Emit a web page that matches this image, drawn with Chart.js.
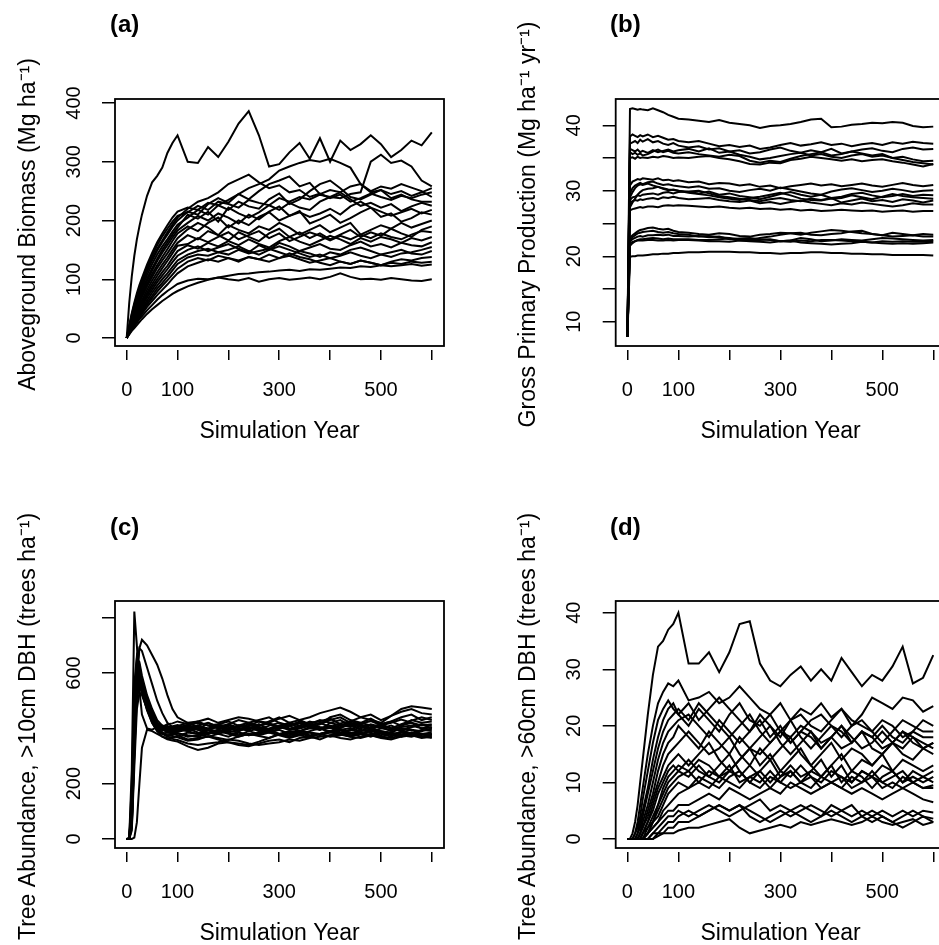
<!DOCTYPE html>
<html>
<head>
<meta charset="utf-8">
<script src="https://cdn.jsdelivr.net/npm/chart.js@4.4.1/dist/chart.umd.min.js"></script>
<style>
  html, body { margin: 0; padding: 0; background: #fff; }
  body { position: relative; width: 939px; height: 945px; overflow: hidden; font-family: "Liberation Sans", Arial, sans-serif; }
  canvas { position: absolute; }
  .tag { position: absolute; font-size: 24px; line-height: 24px; font-weight: bold; color: #000; }
</style>
</head>
<body>
<canvas id="chartA" width="470" height="470" style="left:0;top:0"></canvas>
<canvas id="chartB" width="500" height="470" style="left:470px;top:0"></canvas>
<canvas id="chartC" width="470" height="480" style="left:0;top:470px"></canvas>
<canvas id="chartD" width="500" height="480" style="left:470px;top:470px"></canvas>
<div class="tag" style="left:110px;top:12px">(a)</div>
<div class="tag" style="left:610px;top:12px">(b)</div>
<div class="tag" style="left:110px;top:515px">(c)</div>
<div class="tag" style="left:610px;top:515px">(d)</div>
<script>
// simulation years sampled for every series
const years = [0,5,10,15,20,25,30,40,50,60,70,80,90,100,120,140,160,180,200,220,240,260,280,300,320,340,360,380,400,420,440,460,480,500,520,540,560,580,600];
const xTicks = [0,100,200,300,400,500,600];
const xTickLabels = ['0','100','','300','','500',''];

// (a) aboveground biomass, Mg/ha
const biomassTicks = [0,100,200,300,400];
const biomassTickLabels = ['0','100','200','300','400'];
const biomass = [
  [0,60,105,140,168,190,210,242,265,276,290,315,332,345,300,298,325,308,334,365,386,345,292,296,316,332,305,340,300,336,320,330,345,330,308,320,336,328,350],
  [0,22,42,60,76,90,102,125,145,163,178,192,205,215,222,218,230,226,235,245,255,262,270,285,292,298,303,300,305,298,290,262,248,252,245,250,242,248,255],
  [0,20,40,57,72,86,98,120,140,158,173,186,198,208,214,225,218,232,228,222,235,230,226,238,232,240,236,244,240,238,245,248,300,312,298,302,292,268,258],
  [0,19,37,53,68,82,94,116,135,152,166,180,193,205,220,232,238,248,262,270,278,265,255,260,248,252,240,246,238,244,232,238,246,240,235,242,238,244,248],
  [0,18,35,51,66,79,91,113,132,149,163,176,189,200,215,210,228,238,230,245,236,250,262,268,275,258,264,245,252,248,258,262,250,258,254,262,256,250,240],
  [0,17,33,48,62,75,86,107,126,142,156,168,181,193,205,218,210,226,218,232,224,220,236,246,228,236,250,262,268,255,240,236,244,252,238,244,236,232,232],
  [0,16,31,45,58,70,81,101,119,135,150,163,176,188,210,203,215,198,222,212,205,214,226,218,230,222,218,232,240,248,236,225,230,222,228,216,224,230,225],
  [0,15,29,42,55,66,77,97,115,131,145,158,171,183,196,208,200,212,205,195,210,202,215,224,208,214,206,212,220,210,224,232,222,215,208,214,220,212,218],
  [0,14,27,40,52,63,73,92,109,124,138,151,165,178,190,182,196,205,188,200,192,206,214,200,208,216,195,202,210,196,204,214,222,206,212,198,204,214,210],
  [0,13,26,38,50,60,70,88,104,119,132,144,157,170,185,196,188,175,192,184,178,190,184,196,188,176,184,192,180,188,196,176,184,192,186,196,188,194,200],
  [0,12,24,35,46,56,65,82,98,112,125,137,150,162,175,168,182,175,166,180,172,165,178,186,172,180,170,178,168,176,184,172,180,174,186,178,172,184,190],
  [0,11,22,33,43,52,61,77,92,106,119,131,144,157,160,170,163,172,180,168,175,182,170,178,165,172,180,174,166,174,168,176,170,178,172,168,176,182,180],
  [0,10,21,31,40,49,57,73,87,100,112,123,136,148,158,152,162,156,165,158,168,160,154,165,172,164,158,166,174,168,160,170,164,172,168,162,170,166,172],
  [0,10,20,29,38,46,54,69,82,95,106,117,129,140,150,156,148,154,160,152,146,158,150,162,156,148,154,160,152,150,158,164,156,160,154,162,158,156,163],
  [0,9,18,27,35,43,50,64,77,89,100,110,121,132,142,148,152,146,150,156,148,142,150,156,150,144,138,142,136,140,146,140,136,142,138,144,146,150,155],
  [0,9,17,25,33,40,47,60,72,84,94,104,115,126,137,142,140,146,142,150,144,148,152,146,140,148,144,138,146,142,150,154,148,142,146,150,144,142,148],
  [0,8,16,24,31,38,44,57,68,79,89,98,108,118,130,136,132,140,136,130,138,134,142,136,144,138,134,128,124,130,126,132,128,124,130,134,132,136,138],
  [0,8,15,22,29,35,41,53,63,73,82,91,101,110,122,128,134,130,136,132,138,134,130,136,140,134,128,132,136,130,126,132,128,124,128,126,130,128,130],
  [0,6,12,17,22,27,32,41,49,56,63,69,75,80,88,94,99,103,106,109,110,112,113,115,116,114,117,116,118,120,119,122,121,124,122,124,126,123,125],
  [0,7,14,20,26,32,37,47,56,65,73,80,86,92,98,101,100,103,100,98,102,96,100,102,99,101,103,100,104,110,104,100,101,99,102,100,98,97,100]
];

// (b) gross primary production, Mg/ha/yr
const gppTicks = [10,15,20,25,30,35,40];
const gppTickLabels = ['10','','20','','30','','40'];
const gpp = [
  [7.7,42.5,42.6,42.5,42.4,42.5,42.4,42.3,42.6,42.3,42.0,41.6,41.3,41.0,40.9,40.7,40.5,40.8,40.4,40.2,40.0,39.6,39.9,40.0,40.2,40.5,40.9,41.0,39.7,39.8,40.1,40.2,40.4,40.3,40.5,40.4,39.9,39.7,39.8],
  [7.7,38.3,38.6,38.4,38.2,38.5,38.3,38.6,38.2,38.4,38.1,37.8,37.9,37.6,37.4,37.6,37.2,36.8,37.0,36.7,36.9,36.4,36.6,37.0,37.3,36.9,37.1,37.4,37.0,37.2,36.8,37.1,37.3,37.0,37.4,37.2,37.5,37.3,37.2],
  [7.7,37.2,37.4,37.6,37.3,37.8,37.5,37.9,37.4,37.6,37.2,37.0,37.3,36.9,36.6,36.8,36.3,36.5,36.0,36.2,35.7,35.9,36.3,36.6,36.1,35.8,36.2,35.9,36.4,35.7,36.0,36.3,36.5,36.1,35.9,36.4,36.6,36.3,36.4],
  [7.7,36.4,36.2,36.0,36.3,35.9,36.1,35.8,36.2,35.9,36.1,36.3,36.0,36.2,36.4,36.0,36.5,35.8,36.0,35.5,35.2,34.8,35.0,35.3,35.6,35.8,35.4,35.6,35.2,35.0,35.4,35.6,35.2,35.4,35.0,35.2,34.8,34.5,34.6],
  [7.7,35.9,35.6,35.8,35.5,35.7,35.4,35.6,36.0,36.3,35.9,36.1,35.8,35.7,35.9,35.6,35.4,35.2,35.5,35.3,34.6,34.3,34.6,34.4,34.9,35.3,35.6,35.9,35.4,35.6,36.0,35.7,35.4,35.6,35.0,34.7,34.4,34.2,34.0],
  [7.7,35.0,35.1,34.9,35.2,35.0,35.1,35.0,35.2,35.1,35.3,35.2,35.0,35.1,35.0,35.2,35.3,35.0,34.8,34.5,34.1,34.0,34.3,34.2,34.7,34.9,35.2,35.0,34.8,34.6,34.8,34.5,34.7,34.8,34.5,34.3,34.0,33.7,34.1],
  [7.7,30.8,31.4,31.6,31.8,31.7,31.9,31.8,31.7,31.9,31.6,31.7,31.5,31.6,31.3,31.4,31.0,31.2,31.1,30.8,31.0,30.6,30.8,30.4,30.7,30.9,31.1,30.8,31.0,30.7,30.9,31.1,30.8,30.6,30.9,31.2,30.9,30.7,30.9],
  [7.7,29.6,30.4,30.8,31.0,31.2,31.0,31.3,31.4,31.1,30.9,31.0,30.8,30.7,30.5,30.7,30.3,30.4,30.0,29.8,30.1,30.3,30.0,30.5,30.2,29.9,29.6,29.4,29.9,30.2,30.4,30.1,29.8,30.0,30.3,30.1,29.8,30.0,30.1],
  [7.7,27.5,28.2,28.8,29.4,29.8,30.1,30.3,30.4,30.6,30.3,30.1,30.2,30.0,29.8,29.6,29.9,29.4,29.6,29.2,29.0,28.7,29.1,29.5,29.8,29.4,29.1,29.4,28.9,29.1,29.5,29.7,29.3,29.0,29.2,29.5,29.2,29.4,29.3],
  [7.7,28.6,29.0,29.1,29.3,29.2,29.4,29.5,29.6,29.4,29.7,29.8,29.6,29.8,29.9,30.0,29.6,29.2,29.0,28.8,28.6,28.4,28.7,28.9,28.6,28.4,28.8,28.6,28.9,28.2,28.5,28.8,28.4,28.6,28.3,28.7,28.5,28.2,28.5],
  [7.7,28.2,28.4,28.6,28.5,28.7,28.6,28.8,28.9,28.7,29.0,28.9,29.1,28.9,28.7,28.8,28.9,28.6,28.4,28.3,28.5,28.1,28.3,28.0,28.3,28.5,28.2,28.0,27.8,28.1,27.9,28.2,28.0,27.8,27.6,27.8,28.1,27.9,27.9],
  [7.7,27.0,27.2,27.3,27.4,27.5,27.4,27.6,27.6,27.5,27.7,27.8,27.7,27.8,27.7,27.6,27.5,27.6,27.4,27.3,27.4,27.2,27.3,27.1,27.2,27.0,27.1,26.9,27.0,27.1,27.0,26.9,27.0,26.8,26.9,27.0,26.8,26.9,26.9],
  [7.7,29.0,29.8,30.4,30.8,31.0,30.9,31.1,30.8,30.6,30.4,30.2,30.1,30.0,29.7,29.5,29.3,29.0,28.8,28.6,28.9,29.1,29.4,29.7,29.3,28.8,28.6,28.5,28.8,28.9,29.3,29.0,28.7,29.1,29.5,29.2,29.0,28.9,28.8],
  [7.7,22.8,23.2,23.5,23.8,24.0,24.1,24.3,24.4,24.2,24.1,24.2,23.9,23.7,23.6,23.4,23.3,23.5,23.4,23.1,23.0,23.3,23.4,23.6,23.5,23.3,23.6,23.8,24.0,23.9,23.7,23.5,23.4,23.2,23.6,23.4,23.2,23.4,23.3],
  [7.7,22.4,22.9,23.2,23.5,23.6,23.7,23.8,23.9,23.7,23.6,23.7,23.5,23.4,23.3,23.0,23.1,22.9,22.8,22.6,22.5,22.8,23.0,23.3,23.5,23.6,23.3,23.2,23.4,23.5,23.8,23.9,23.4,23.2,23.0,23.1,23.2,23.0,23.0],
  [7.7,22.3,22.6,22.8,23.0,23.1,23.0,23.2,23.2,23.3,23.2,23.3,23.1,23.1,23.0,23.1,22.9,23.0,22.6,22.7,22.8,22.6,22.5,22.3,22.4,22.8,22.6,22.3,22.4,22.6,22.5,22.4,22.6,22.8,22.7,22.6,22.5,22.4,22.5],
  [7.7,21.6,22.0,22.3,22.5,22.6,22.6,22.7,22.8,22.7,22.6,22.7,22.6,22.6,22.6,22.5,22.5,22.6,22.7,22.4,22.3,22.2,22.1,22.3,22.4,22.1,22.0,21.9,21.8,21.9,22.0,22.2,22.1,22.0,21.9,22.0,21.9,22.0,22.1],
  [7.7,22.0,22.2,22.3,22.4,22.4,22.4,22.5,22.5,22.4,22.4,22.5,22.4,22.5,22.5,22.4,22.3,22.3,22.2,22.4,22.4,22.5,22.6,22.3,22.2,22.4,22.3,22.5,22.5,22.4,22.3,22.2,22.1,22.3,22.2,22.3,22.2,22.2,22.3],
  [7.7,19.9,20.0,20.0,20.1,20.1,20.1,20.2,20.3,20.3,20.4,20.4,20.5,20.5,20.6,20.6,20.7,20.7,20.7,20.6,20.6,20.5,20.5,20.4,20.5,20.5,20.6,20.6,20.5,20.5,20.4,20.4,20.3,20.3,20.2,20.2,20.2,20.2,20.1]
];

// (c) trees > 10 cm DBH per ha
const smallTreeTicks = [0,200,400,600,800];
const smallTreeTickLabels = ['0','200','','600',''];
const smallTrees = [
  [0,5,250,822,700,540,450,400,395,405,400,410,395,400,410,395,420,405,390,410,400,415,395,405,420,400,410,395,420,430,410,400,415,405,390,410,420,400,405],
  [0,0,60,320,560,690,720,700,665,630,580,520,470,440,420,405,395,410,400,390,405,395,410,420,400,390,405,395,410,400,420,405,395,410,400,390,405,415,400],
  [0,0,80,400,620,690,680,620,560,500,455,420,405,398,390,380,395,385,400,390,405,395,385,400,410,390,400,395,405,385,395,410,400,390,385,400,395,390,400],
  [0,2,150,520,650,640,590,520,470,430,410,400,392,388,395,410,400,415,405,395,410,425,415,400,410,420,405,415,430,440,420,410,400,415,425,410,430,420,425],
  [0,1,120,480,620,610,570,510,460,420,400,395,398,402,390,400,385,395,410,400,390,380,395,405,395,400,410,420,405,395,400,390,405,415,400,390,380,395,390],
  [0,0,100,450,600,590,555,490,440,410,395,390,386,382,370,375,385,380,370,385,375,380,390,380,375,385,370,380,390,385,375,380,370,385,380,375,385,380,380],
  [0,0,90,420,580,600,560,500,450,415,400,385,382,388,400,385,380,395,385,375,390,400,385,395,380,390,385,375,385,395,380,390,395,385,375,385,395,380,385],
  [0,0,70,380,560,580,545,480,430,400,385,375,378,382,375,370,380,390,380,370,380,375,385,375,365,375,385,380,370,375,385,370,380,375,385,375,370,380,375],
  [0,0,50,340,540,565,540,480,430,405,395,400,403,408,420,425,410,400,415,430,420,410,425,440,420,410,425,415,440,450,430,420,435,415,425,440,450,430,440],
  [0,0,40,300,510,550,530,470,425,395,380,370,366,372,385,380,370,380,390,385,375,385,395,380,370,380,390,400,385,380,395,385,375,390,380,370,385,380,375],
  [0,1,200,560,660,630,575,500,440,410,395,390,392,398,410,420,410,415,425,410,420,430,440,420,410,425,415,430,420,410,425,440,430,420,445,460,470,455,450],
  [0,0,0,5,60,200,330,395,390,380,370,365,362,358,345,340,345,350,360,355,345,340,345,350,360,355,365,370,375,365,360,370,375,365,360,370,375,365,370],
  [0,0,30,260,470,530,520,470,420,390,370,360,356,352,335,322,330,345,350,340,335,345,355,360,350,365,370,360,375,380,370,365,375,370,365,375,380,370,370],
  [0,0,60,360,550,570,530,465,420,390,380,385,382,375,360,365,370,360,350,345,340,352,365,380,390,385,375,380,390,395,385,380,390,380,370,385,375,370,380],
  [0,0,110,470,610,600,560,490,445,415,405,415,418,425,415,425,435,420,430,440,435,425,420,435,445,430,440,455,465,475,460,440,450,430,445,470,480,475,470],
  [0,0,130,500,640,620,570,500,450,420,410,405,408,412,400,410,420,405,395,410,400,405,395,410,420,430,415,405,400,410,415,420,410,400,395,405,410,400,395],
  [0,0,80,400,600,610,580,510,455,420,400,390,387,392,405,395,380,390,400,410,405,390,400,410,395,405,415,400,390,405,410,395,385,400,410,395,405,415,410],
  [0,0,45,320,520,560,545,490,440,405,385,375,372,368,355,360,372,365,358,370,380,372,365,378,385,375,368,380,388,378,370,382,375,368,380,386,378,372,365],
  [0,0,140,510,630,615,565,495,448,418,405,398,400,404,412,400,395,406,415,402,395,408,418,406,398,410,420,426,435,415,405,418,426,412,400,415,428,440,430],
  [0,0,100,440,590,590,555,492,446,414,398,392,390,393,402,410,398,388,396,406,414,402,394,404,412,420,408,396,404,418,426,414,402,410,420,432,420,410,415]
];

// (d) trees > 60 cm DBH per ha
const largeTreeTicks = [0,10,20,30,40];
const largeTreeTickLabels = ['0','10','20','30','40'];
const largeTrees = [
  [0,0,1,3,6,10,14,22,29,34,35,37,38,40,31,31,33,29.5,33,38,38.5,31,28,27,29,30.5,28,30,28,32,29.5,27,29,28,30.5,34,27.5,28.5,32.5],
  [0,0,0,1,3,6,9,15,20,24,26,27.5,27,28,24.5,25,26,24,25,27,25,23,22,24,21,23,22,24,21.5,23,20,22,25,24,23,25,24.5,22.5,23.5],
  [0,0,0,1,2,4,7,12,17,21,23,24.5,23,22,24,21,23,25,23,21,19,22,20,18,21,22,20,19,21,23,21,20,19,21,20,18,19,21,20],
  [0,0,0,0,1,3,5,9,14,18,21,23,24,22,20,23,21,19,22,24,21,20,22,19,17,19,21,22,20,18,20,21,19,17,19,21,20,19,19],
  [0,0,0,0,1,2,4,8,12,16,19,21,22,23,21,24,22,20,18,20,22,19,17,19,21,18,16,18,20,19,17,19,18,20,18,17,19,18,18],
  [0,0,0,0,0,1,3,6,10,14,17,19,20,21,22,20,18,21,19,17,19,21,18,20,17,19,18,16,18,20,18,16,17,19,17,19,17,16,17],
  [0,0,0,0,0,1,2,5,8,12,15,17,18,20,18,16,19,17,15,18,16,18,20,17,15,17,19,16,18,16,17,19,16,15,17,16,18,17,16],
  [0,0,0,0,0,1,2,4,7,10,13,15,16,17,19,17,15,16,18,15,13,16,14,16,18,15,13,15,17,14,16,15,13,15,17,15,14,16,15],
  [0,0,0,0,0,0,1,3,6,9,11,13,14,15,13,15,17,14,12,14,16,13,15,12,14,16,13,11,13,15,12,14,13,15,12,14,13,12,13],
  [0,0,0,0,0,0,1,3,5,8,10,12,13,12,14,12,11,13,15,12,10,12,14,11,13,11,12,14,11,13,10,12,11,13,12,10,12,11,12],
  [0,0,0,0,0,0,1,2,4,6,8,10,11,12,11,13,11,10,12,11,13,11,9,11,12,10,12,11,13,10,12,11,9,11,12,10,11,10,11],
  [0,0,0,0,0,0,0,2,3,5,7,9,10,11,12,10,12,11,13,10,11,12,10,12,11,13,11,10,12,11,10,12,11,10,11,12,10,11,10],
  [0,0,0,0,0,0,0,1,3,4,6,8,9,10,9,11,10,9,11,12,10,9,11,10,12,10,9,11,10,9,11,10,12,10,9,11,10,9,9.5],
  [0,0,0,0,0,0,0,1,2,3,5,6,7,8,9,10,9,11,10,9,11,10,12,10,9,10,11,9,10,11,9,10,11,9,10,9,10,9,9],
  [0,0,0,0,0,0,0,1,2,3,4,5,5,6,6,7,8,7,9,8,7,8,9,8,10,9,8,9,10,9,8,9,8,7,8,9,8,7,6.5],
  [0,0,0,0,0,0,0,0,1,2,3,4,4,5,4,5,6,5,4,5,6,7,5,6,5,6,5,4,6,5,4,5,4,5,4,5,4,5,4.7],
  [0,0,0,0,0,0,0,0,1,1,2,3,3,4,5,4,5,6,5,6,5,4,3,4,5,4,3,4,5,4,3,4,5,4,3,4,5,4,3.6],
  [0,0,0,0,0,0,0,0,0,1,1,2,2,3,3,4,5,6,5,6,4,3,4,5,4,5,6,5,4,5,6,4,3,4,3,2,3,4,3],
  [0,0,0,0,0,0,0,0,0,0.5,1,1,1,1.5,2,2,2.5,3,3.5,2,1,1.5,2,2.5,2,3,2.5,3,3.5,3,2.5,3,4,3,2.5,3,3.5,2.5,3],
  [0,0,0,0,0,0,0,1,3,6,9,11,12,13,12,14,13,11,12,14,16,15,17,19,18,20,19,17,18,20,17,19,18,16,17,19,18,16,17]
];

Chart.defaults.font.family = '"Liberation Sans", Arial, sans-serif';
Chart.defaults.color = '#000';

// R-style box around the plot region, slightly above the x tick marks
const boxPlugin = {
  id: 'box',
  afterDatasetsDraw(chart) {
    const { ctx, chartArea: a } = chart;
    ctx.save();
    ctx.strokeStyle = '#000';
    ctx.lineWidth = 1.8;
    ctx.strokeRect(a.left, a.top, a.right - a.left, a.bottom - 4 - a.top);
    ctx.restore();
  }
};

function drawPanel(id, series, o) {
  new Chart(document.getElementById(id), {
    type: 'line',
    data: {
      datasets: series.map(s => ({
        data: years.map((x, i) => ({ x: x, y: s[i] })),
        borderColor: '#000',
        borderWidth: 2,
        pointRadius: 0,
        fill: false,
        tension: 0
      }))
    },
    options: {
      responsive: false,
      animation: false,
      events: [],
      layout: { padding: o.padding },
      plugins: { legend: { display: false }, tooltip: { enabled: false } },
      scales: {
        x: {
          type: 'linear',
          min: -23,
          max: 624,
          afterBuildTicks: s => { s.ticks = xTicks.map(v => ({ value: v })); },
          afterFit: s => { s.height = 94; },
          border: { display: false },
          grid: { drawOnChartArea: false, drawTicks: true, tickLength: 10, color: '#000', lineWidth: 1.5 },
          ticks: { autoSkip: false, maxRotation: 0, padding: 18, color: '#000', font: { size: 20 },
                   callback: (v, i) => xTickLabels[i] },
          title: { display: true, text: 'Simulation Year', color: '#000',
                   font: { size: 23, lineHeight: 1.1 }, padding: { top: 0, bottom: 0 } }
        },
        y: {
          type: 'linear',
          min: o.yMin,
          max: o.yMax,
          afterBuildTicks: s => { s.ticks = o.yTicks.map(v => ({ value: v })); },
          afterFit: s => { s.width = o.yWidth; },
          border: { display: false },
          grid: { drawOnChartArea: false, drawTicks: true, tickLength: 13, color: '#000', lineWidth: 1.5 },
          ticks: { autoSkip: false, minRotation: 90, maxRotation: 90, crossAlign: 'center',
                   padding: o.yPad, color: '#000', font: { size: 20 },
                   callback: (v, i) => o.yLabels[i] },
          title: { display: true, text: o.yTitle, color: '#000',
                   font: { size: 23, lineHeight: 1.1 }, padding: { top: o.yTitlePad, bottom: 0 } }
        }
      }
    },
    plugins: [boxPlugin]
  });
}

drawPanel('chartA', biomass, {
  padding: { left: 0, top: 99, right: 26, bottom: 26 },
  yWidth: 115, yMin: -20.4, yMax: 406.8,
  yTicks: biomassTicks, yLabels: biomassTickLabels, yPad: 11.3, yTitlePad: 16,
  yTitle: 'Aboveground Biomass (Mg ha⁻¹)'
});
drawPanel('chartB', gpp, {
  padding: { left: 0, top: 99, right: 24.5, bottom: 26 },
  yWidth: 145.7, yMin: 5.68, yMax: 44.02,
  yTicks: gppTicks, yLabels: gppTickLabels, yPad: 17, yTitlePad: 46,
  yTitle: 'Gross Primary Production (Mg ha⁻¹ yr⁻¹)'
});
drawPanel('chartC', smallTrees, {
  padding: { left: 0, top: 131, right: 26, bottom: 4 },
  yWidth: 115, yMin: -47, yMax: 860.4,
  yTicks: smallTreeTicks, yLabels: smallTreeTickLabels, yPad: 11.3, yTitlePad: 16,
  yTitle: 'Tree Abundance, >10cm DBH (trees ha⁻¹)'
});
drawPanel('chartD', largeTrees, {
  padding: { left: 0, top: 131, right: 24.5, bottom: 4 },
  yWidth: 145.7, yMin: -2.3, yMax: 42.07,
  yTicks: largeTreeTicks, yLabels: largeTreeTickLabels, yPad: 17, yTitlePad: 46,
  yTitle: 'Tree Abundance, >60cm DBH (trees ha⁻¹)'
});
</script>
</body>
</html>
